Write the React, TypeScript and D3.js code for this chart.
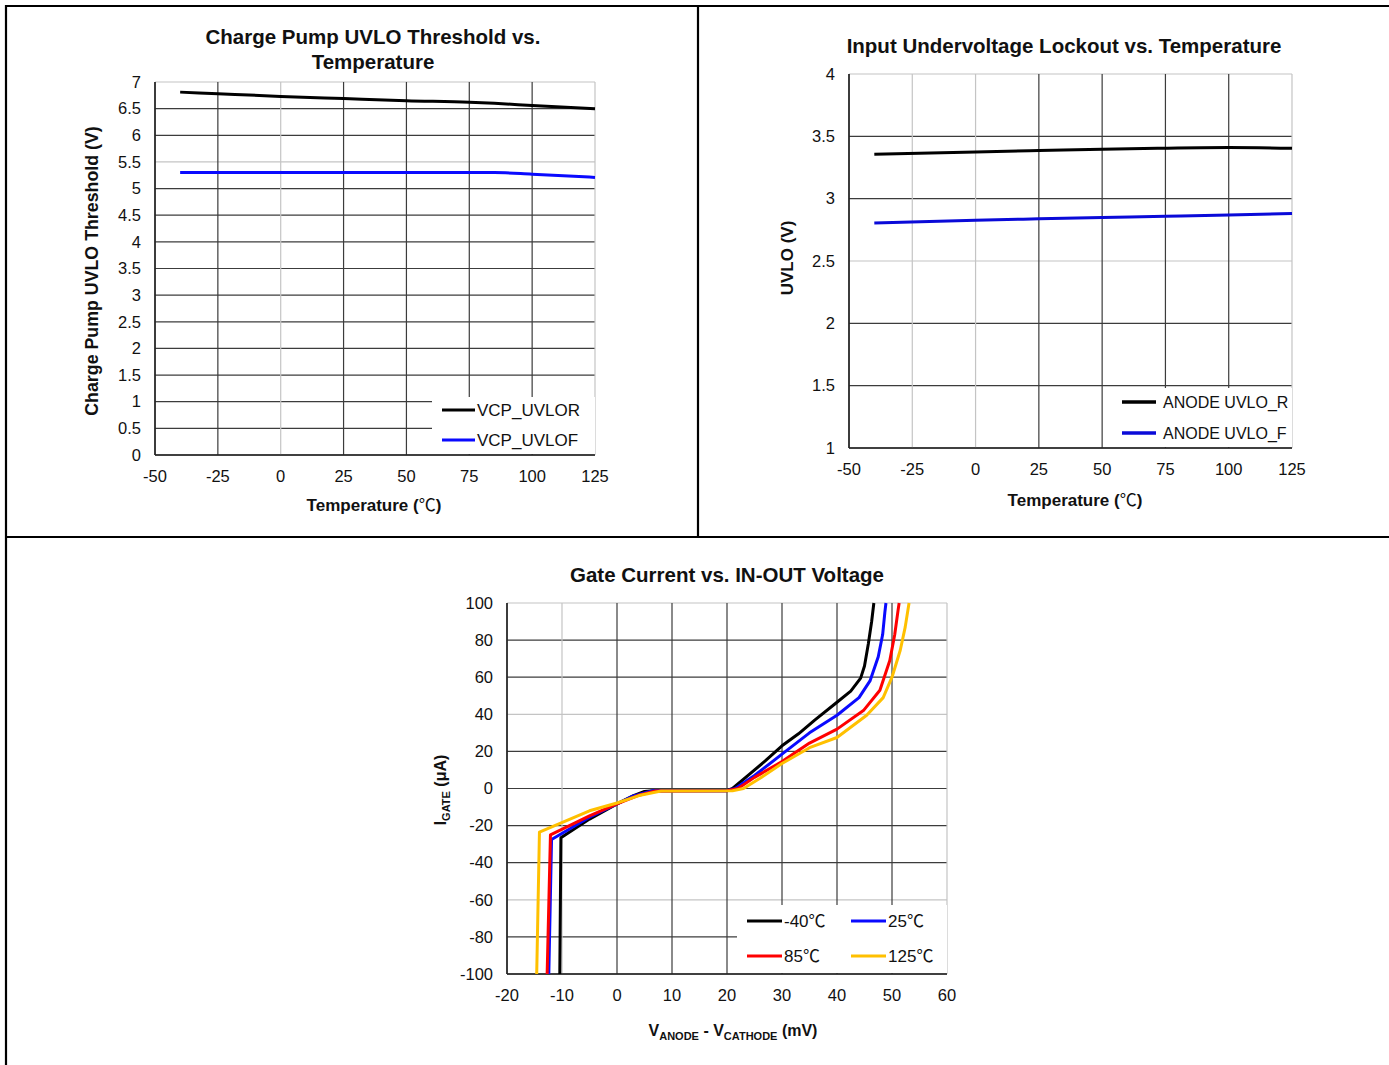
import React from 'react';
import * as d3 from 'd3';

const FONT = '"Liberation Sans", Arial, sans-serif';
const CJK = '"Noto Sans CJK SC", sans-serif';

// --- Charge Pump UVLO Threshold vs. Temperature
const cpTemps = [-40, -25, 0, 25, 50, 75, 85, 100, 125];
const cpUvlor = [6.81, 6.78, 6.73, 6.69, 6.65, 6.62, 6.6, 6.56, 6.5];
const cpUvlof = [5.3, 5.3, 5.3, 5.3, 5.3, 5.3, 5.3, 5.27, 5.21];
const tempTicks = [-50, -25, 0, 25, 50, 75, 100, 125];
const cpYTicks = [0, 0.5, 1, 1.5, 2, 2.5, 3, 3.5, 4, 4.5, 5, 5.5, 6, 6.5, 7];

// --- Input Undervoltage Lockout vs. Temperature
const uvTemps = [-40, 0, 25, 50, 75, 100, 125];
const uvloR = [3.356, 3.375, 3.386, 3.397, 3.405, 3.41, 3.405];
const uvloF = [2.805, 2.827, 2.838, 2.849, 2.858, 2.868, 2.882];
const uvYTicks = [1, 1.5, 2, 2.5, 3, 3.5, 4];

// --- Gate Current vs. IN-OUT Voltage (mV, uA)
const gcXTicks = [-20, -10, 0, 10, 20, 30, 40, 50, 60];
const gcYTicks = [-100, -80, -60, -40, -20, 0, 20, 40, 60, 80, 100];
const vM40 = [-10.4, -10.2, -5, 0, 3, 5, 6.5, 20, 21, 24, 27, 30, 33, 36, 40, 42.5, 44.3, 45, 45.7, 46.3, 46.7];
const iM40 = [-100, -26.5, -16.5, -8.3, -3.8, -1.6, -1.2, -1.2, 0, 7.5, 15, 23, 29.5, 37, 46.5, 52.5, 59.5, 66, 78, 90, 100];
const v25 = [-12.4, -11.9, -5, 0, 3, 6.5, 20, 21.5, 25, 30, 35, 40, 44, 46, 47.5, 48.3, 48.7, 48.9];
const i25 = [-100, -27.5, -15.5, -8.3, -4, -1.2, -1.2, 0, 7, 18.5, 30, 39.5, 49, 58, 71, 83, 95, 100];
const v85 = [-12.7, -12.1, -5, 0, 4, 7, 20, 22, 25, 30, 35, 40, 44.8, 47.8, 49.6, 50.5, 51.1, 51.3];
const i85 = [-100, -25, -14.8, -8.3, -3.6, -1.3, -1.2, 0, 6, 14.5, 24.5, 32, 42, 53, 69, 83, 96, 100];
const v125 = [-14.6, -14.1, -5, 0, 4, 8, 21, 23, 26, 30, 35, 40, 45.4, 48.4, 50, 51.5, 52.4, 53.1];
const i125 = [-100, -23.5, -12, -7.8, -3.8, -1.3, -1.2, 0, 5.5, 13.5, 22, 27.5, 39.5, 49, 60, 74.5, 87, 100];

type Series = { name: string; color: string; xs: number[]; ys: number[] };
type LegendCfg = {
  box: [number, number, number, number];
  cols: number[];
  rows: number[];
  lineLen: number;
  gap: number;
  fontSize: number;
  lineWidth: number;
};

type PlotProps = {
  rect: [number, number, number, number];
  xDomain: [number, number];
  yDomain: [number, number];
  xTicks: number[];
  yTicks: number[];
  lightX?: number[];
  lightY?: number[];
  series: Series[];
  strokeWidth: number;
  curve: d3.CurveFactory;
  legend: LegendCfg;
};

// the degree-celsius sign is drawn from the CJK font, as in the original
const withCelsius = (s: string) =>
  s.split('℃').map((part, i, arr) => (
    <React.Fragment key={i}>
      {part}
      {i < arr.length - 1 && <tspan fontFamily={CJK} fontWeight="normal">℃</tspan>}
    </React.Fragment>
  ));

const Plot = ({ rect, xDomain, yDomain, xTicks, yTicks, lightX = [], lightY = [], series, strokeWidth, curve, legend }: PlotProps) => {
  const [l, t, r, b] = rect;
  const x = d3.scaleLinear().domain(xDomain).range([l, r]);
  const y = d3.scaleLinear().domain(yDomain).range([b, t]);
  const line = d3.line<[number, number]>().x(d => x(d[0])).y(d => y(d[1])).curve(curve);
  const gridCol = (v: number, light: number[]) => (light.includes(v) ? '#c4c4c4' : '#3c3c3c');
  const [lx0, ly0, lx1, ly1] = legend.box;
  return (
    <g>
      {yTicks.map(v => (
        <line key={'gy' + v} x1={l} x2={r} y1={y(v)} y2={y(v)} stroke={gridCol(v, lightY)} strokeWidth={1.2} />
      ))}
      {xTicks.map(v => (
        <line key={'gx' + v} x1={x(v)} x2={x(v)} y1={t} y2={b} stroke={gridCol(v, lightX)} strokeWidth={1.2} />
      ))}
      <rect x={lx0} y={ly0} width={lx1 - lx0} height={ly1 - ly0} fill="#fff" />
      <line x1={l} x2={l} y1={t} y2={b} stroke="#222" strokeWidth={1.5} />
      <line x1={l} x2={r} y1={b} y2={b} stroke="#222" strokeWidth={1.5} />
      {series.map(s => (
        <path
          key={s.name}
          d={line(s.xs.map((v, i) => [v, s.ys[i]] as [number, number])) || ''}
          fill="none"
          stroke={s.color}
          strokeWidth={strokeWidth}
          strokeLinejoin="round"
        />
      ))}
      {yTicks.map(v => (
        <text key={'ty' + v} x={l - 14} y={y(v)} dy="0.35em" textAnchor="end" fontSize={16.5} fill="#111">
          {String(v)}
        </text>
      ))}
      {xTicks.map(v => (
        <text key={'tx' + v} x={x(v)} y={b + 21} dy="0.35em" textAnchor="middle" fontSize={16.5} fill="#111">
          {String(v)}
        </text>
      ))}
      {series.map((s, i) => {
        const cx = legend.cols[i % legend.cols.length];
        const cy = legend.rows[Math.floor(i / legend.cols.length)];
        return (
          <g key={'lg' + s.name}>
            <line x1={cx} x2={cx + legend.lineLen} y1={cy} y2={cy} stroke={s.color} strokeWidth={legend.lineWidth} />
            <text x={cx + legend.lineLen + legend.gap} y={cy} dy="0.35em" fontSize={legend.fontSize} fill="#111">
              {withCelsius(s.name)}
            </text>
          </g>
        );
      })}
    </g>
  );
};

const App = () => {
  const cpSeries: Series[] = [
    { name: 'VCP_UVLOR', color: '#000000', xs: cpTemps, ys: cpUvlor },
    { name: 'VCP_UVLOF', color: '#0a0aff', xs: cpTemps, ys: cpUvlof },
  ];
  const uvSeries: Series[] = [
    { name: 'ANODE UVLO_R', color: '#000000', xs: uvTemps, ys: uvloR },
    { name: 'ANODE UVLO_F', color: '#0a0ad8', xs: uvTemps, ys: uvloF },
  ];
  const gcSeries: Series[] = [
    { name: '-40℃', color: '#000000', xs: vM40, ys: iM40 },
    { name: '25℃', color: '#0a0aff', xs: v25, ys: i25 },
    { name: '85℃', color: '#ff0000', xs: v85, ys: i85 },
    { name: '125℃', color: '#ffc000', xs: v125, ys: i125 },
  ];

  return (
    <svg width={1389} height={1065} style={{ position: 'absolute', left: 0, top: 0, background: '#fff' }} fontFamily={FONT}>
      <rect width={1389} height={1065} fill="#fff" />
      {/* frame */}
      <g stroke="#000" strokeWidth={2.2}>
        <line x1={5} x2={1389} y1={6} y2={6} />
        <line x1={6} x2={6} y1={5} y2={1065} />
        <line x1={698} x2={698} y1={6} y2={537} />
        <line x1={6} x2={1389} y1={537} y2={537} />
      </g>

      {/* chart 1 */}
      <text x={373} y={37} dy="0.35em" textAnchor="middle" fontSize={20.5} fontWeight="bold" fill="#111">
        Charge Pump UVLO Threshold vs.
      </text>
      <text x={373} y={62} dy="0.35em" textAnchor="middle" fontSize={20.5} fontWeight="bold" fill="#111">
        Temperature
      </text>
      <Plot
        rect={[155, 82, 595, 455]}
        xDomain={[-50, 125]}
        yDomain={[0, 7]}
        xTicks={tempTicks}
        yTicks={cpYTicks}
        lightX={[0, 125]}
        lightY={[5.5, 7]}
        series={cpSeries}
        strokeWidth={3}
        curve={d3.curveMonotoneX}
        legend={{ box: [432, 397, 595, 454], cols: [442], rows: [410, 440], lineLen: 33, gap: 2, fontSize: 17, lineWidth: 3 }}
      />
      <text transform="translate(92,271) rotate(-90)" dy="0.35em" textAnchor="middle" fontSize={17.8} fontWeight="bold" fill="#111">
        Charge Pump UVLO Threshold  (V)
      </text>
      <text x={374} y={505} dy="0.35em" textAnchor="middle" fontSize={17} fontWeight="bold" fill="#111">
        {withCelsius('Temperature (℃)')}
      </text>

      {/* chart 2 */}
      <text x={1064} y={46} dy="0.35em" textAnchor="middle" fontSize={20.5} fontWeight="bold" fill="#111">
        Input Undervoltage Lockout vs. Temperature
      </text>
      <Plot
        rect={[849, 74, 1292, 448]}
        xDomain={[-50, 125]}
        yDomain={[1, 4]}
        xTicks={tempTicks}
        yTicks={uvYTicks}
        lightX={[-25, 0, 125]}
        lightY={[2.5, 4]}
        series={uvSeries}
        strokeWidth={3}
        curve={d3.curveMonotoneX}
        legend={{ box: [1110, 388, 1292, 447], cols: [1122], rows: [402, 433], lineLen: 34, gap: 7, fontSize: 16, lineWidth: 3.5 }}
      />
      <text transform="translate(787,258) rotate(-90)" dy="0.35em" textAnchor="middle" fontSize={17} fontWeight="bold" fill="#111">
        UVLO (V)
      </text>
      <text x={1075} y={500} dy="0.35em" textAnchor="middle" fontSize={17} fontWeight="bold" fill="#111">
        {withCelsius('Temperature (℃)')}
      </text>

      {/* chart 3 */}
      <text x={727} y={575} dy="0.35em" textAnchor="middle" fontSize={20.5} fontWeight="bold" fill="#111">
        Gate Current vs. IN-OUT Voltage
      </text>
      <Plot
        rect={[507, 603, 947, 974]}
        xDomain={[-20, 60]}
        yDomain={[-100, 100]}
        xTicks={gcXTicks}
        yTicks={gcYTicks}
        lightX={[-10, 60]}
        lightY={[-60, 40, 100]}
        series={gcSeries}
        strokeWidth={3}
        curve={d3.curveLinear}
        legend={{ box: [737, 905, 947, 973], cols: [747, 851], rows: [921, 956], lineLen: 35, gap: 2, fontSize: 17, lineWidth: 3 }}
      />
      <text transform="translate(440,790) rotate(-90)" dy="0.35em" textAnchor="middle" fontSize={16} fontWeight="bold" fill="#111">
        I<tspan fontSize={11} dy="4">GATE</tspan>
        <tspan dy="-4"> (μA)</tspan>
      </text>
      <text x={733} y={1030} dy="0.35em" textAnchor="middle" fontSize={16} fontWeight="bold" fill="#111">
        V<tspan fontSize={11} dy="4">ANODE</tspan>
        <tspan dy="-4"> - V</tspan>
        <tspan fontSize={11} dy="4">CATHODE</tspan>
        <tspan dy="-4">  (mV)</tspan>
      </text>
    </svg>
  );
};

export default App;
